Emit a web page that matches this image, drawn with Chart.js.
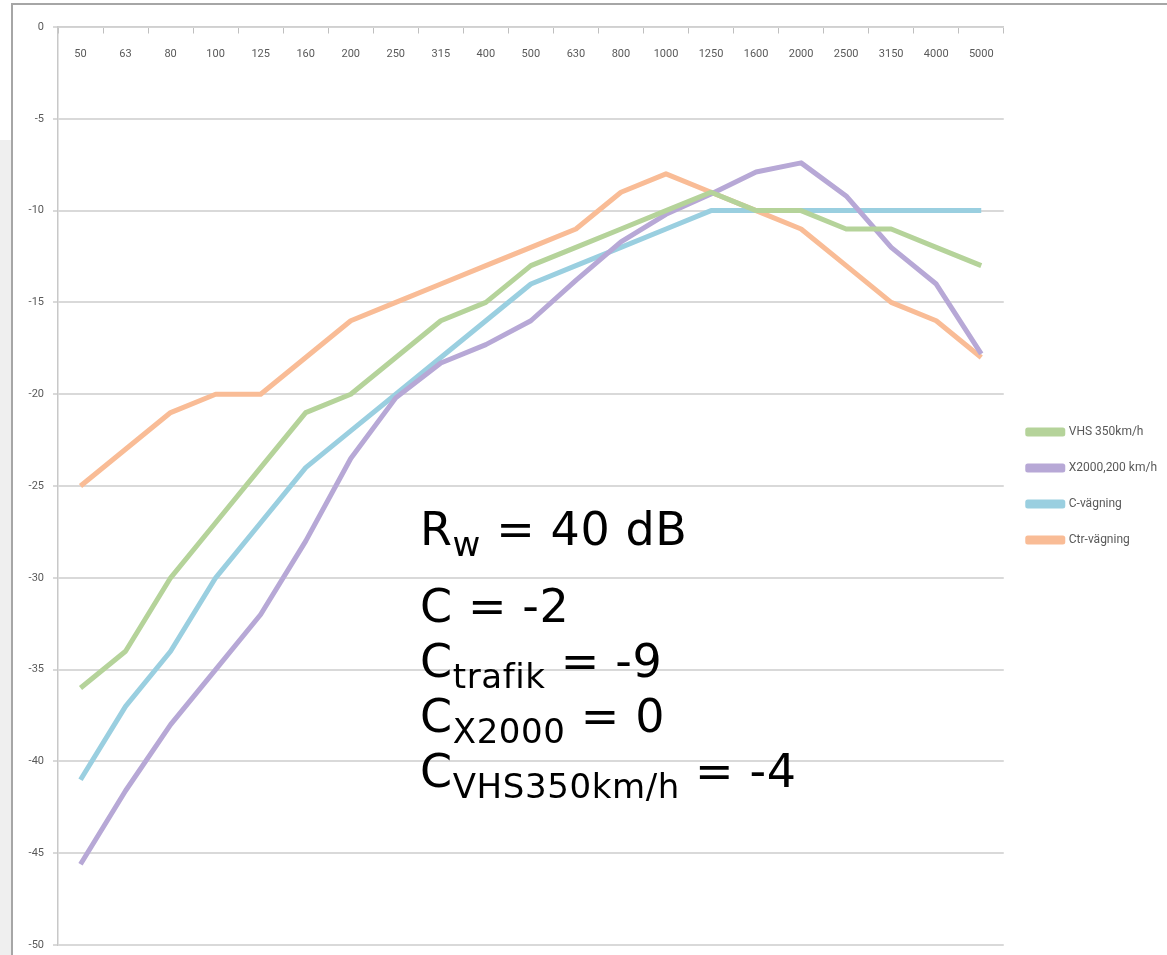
<!DOCTYPE html>
<html>
<head>
<meta charset="utf-8">
<script src="https://cdn.jsdelivr.net/npm/chart.js@4/dist/chart.umd.min.js"></script>
<style>
  html, body { margin: 0; padding: 0; background: #fff; }
  body { width: 1167px; height: 955px; position: relative; overflow: hidden; }
  #sidePanel { position: absolute; left: 0; top: 140px; width: 11px; bottom: 0; background: #efefef; }
  #frame { position: absolute; left: 11px; top: 3px; right: -4px; bottom: -4px;
           border-top: 2px solid #a6a6a6; border-left: 2px solid #a6a6a6; background: #fff; }
  #chartBox { position: absolute; left: 13px; top: 5px; width: 1154px; height: 950px; }
  .note { position: absolute; left: 420px; font-family: "DejaVu Sans", Verdana, sans-serif;
          font-size: 46px; line-height: 1; letter-spacing: 0.6px; color: #000; white-space: nowrap; }
  .note sub { font-size: 34px; vertical-align: -11px; line-height: 0; }
</style>
</head>
<body>
<div id="sidePanel"></div>
<div id="frame"></div>
<div id="chartBox"><canvas id="reductionChart"></canvas></div>

<div class="note" style="top:506px">R<sub>w</sub> = 40 dB</div>
<div class="note" style="top:583px">C = -2</div>
<div class="note" style="top:638px">C<sub>trafik</sub> = -9</div>
<div class="note" style="top:693px">C<sub>X2000</sub> = 0</div>
<div class="note" style="top:748px">C<sub>VHS350km/h</sub> = -4</div>

<script>
// third-octave band centre frequencies (Hz)
const bands = ['50', '63', '80', '100', '125', '160', '200', '250', '315', '400', '500',
               '630', '800', '1000', '1250', '1600', '2000', '2500', '3150', '4000', '5000'];

// spectra in dB
const vhs350 = [-36, -34, -30, -27, -24, -21, -20, -18, -16, -15, -13,
                -12, -11, -10, -9, -10, -10, -11, -11, -12, -13];
const x2000 = [-45.6, -41.6, -38, -35, -32, -28, -23.5, -20.2, -18.3, -17.3, -16,
               -13.8, -11.7, -10.2, -9.1, -7.9, -7.4, -9.2, -12, -14, -17.8];
const cWeight = [-41, -37, -34, -30, -27, -24, -22, -20, -18, -16, -14,
                 -13, -12, -11, -10, -10, -10, -10, -10, -10, -10];
const ctrWeight = [-25, -23, -21, -20, -20, -18, -16, -15, -14, -13, -12,
                   -11, -9, -8, -9, -10, -11, -13, -15, -16, -18];

const yTicks = [0, -5, -10, -15, -20, -25, -30, -35, -40, -45, -50];

const tickFont = { family: 'Roboto, "Open Sans", sans-serif', size: 11 };

function line(label, data, color) {
    return {
        label: label,
        data: data,
        borderColor: color,
        backgroundColor: color,
        borderWidth: 5,
        pointRadius: 0,
        tension: 0,
        borderJoinStyle: 'round'
    };
}

const ctx = document.getElementById('reductionChart').getContext('2d');

new Chart(ctx, {
    type: 'line',
    data: {
        labels: bands,
        datasets: [
            line('VHS 350km/h', vhs350, '#b5d39a'),
            line('X2000,200 km/h', x2000, '#b7a8d6'),
            line('C-vägning', cWeight, '#9acfe0'),
            line('Ctr-vägning', ctrWeight, '#f9bc96')
        ]
    },
    options: {
        responsive: true,
        maintainAspectRatio: false,
        animation: false,
        layout: { padding: { top: 22, bottom: 10, left: 0, right: 0 } },
        plugins: {
            legend: {
                position: 'right',
                labels: {
                    boxWidth: 35,
                    boxHeight: 4,
                    padding: 24,
                    color: '#595959',
                    font: { family: 'Roboto, "Open Sans", sans-serif', size: 12 }
                }
            },
            tooltip: { enabled: false }
        },
        scales: {
            x: {
                position: { y: 0 },
                offset: true,
                grid: {
                    offset: true,
                    drawOnChartArea: false,
                    drawTicks: true,
                    tickLength: 6,
                    color: '#bfbfbf'
                },
                border: { color: '#d0d0d0', width: 1.5 },
                ticks: { color: '#595959', font: tickFont, padding: 15, maxRotation: 0, autoSkip: false }
            },
            y: {
                min: -50,
                max: 0,
                afterFit: (scale) => {
                    scale.width = 45;
                    scale.paddingTop = 0;
                    scale.paddingBottom = 0;
                },
                afterBuildTicks: (scale) => { scale.ticks = yTicks.map(v => ({ value: v })); },
                grid: { color: '#d9d9d9', lineWidth: 2, tickLength: 5 },
                border: { color: '#c8c8c8', width: 1.5 },
                ticks: { color: '#595959', font: tickFont, padding: 9 }
            }
        }
    }
});
</script>
</body>
</html>
